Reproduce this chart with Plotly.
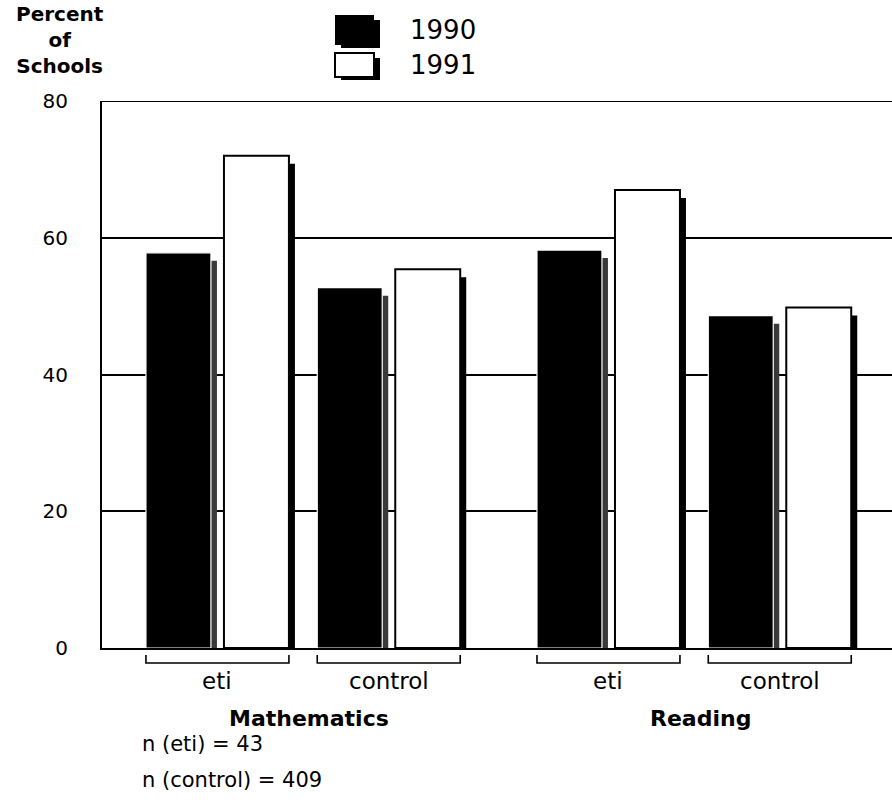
import plotly.graph_objects as go

# Percent of schools, by subject and school group, for two years
subjects = ["Mathematics", "Reading"]
groups = ["eti", "control"]
years = ["1990", "1991"]
pct_1990 = [57.8, 52.7, 58.2, 48.6]   # math eti, math control, reading eti, reading control
pct_1991 = [72.0, 55.4, 67.0, 49.8]
n_eti = 43
n_control = 409

# ---- layout constants (x axis in "bar slot" units) ----
FIRST_PAIR = 1.48
SUBJECT_STEP = 5.013
GROUP_STEP = 2.196
BAR_W = 0.833
X_MAX = 10.128
SHADOW_DX = 0.077
SHADOW_DY = 1.17
Y_MAX = 80

FONT = "DejaVu Sans"
PLOT_L, PLOT_R, PLOT_T, PLOT_B = 102, 892, 101, 648
W, H = 892, 803


def px(xp):
    return (xp - PLOT_L) / (PLOT_R - PLOT_L)


def py(yp):
    return (PLOT_B - yp) / (PLOT_B - PLOT_T)


pair_centers = []
labels = []
for s in range(len(subjects)):
    for g in range(len(groups)):
        pair_centers.append(FIRST_PAIR + s * SUBJECT_STEP + g * GROUP_STEP)
        labels.append(groups[g])

x90 = [c - 0.5 for c in pair_centers]
x91 = [c + 0.5 for c in pair_centers]

fig = go.Figure()

# drop shadows behind the bars
fig.add_trace(go.Bar(x=[x + SHADOW_DX for x in x90], y=[v - SHADOW_DY for v in pct_1990],
                     width=BAR_W, marker=dict(color="#3a3a3a", line=dict(width=0)),
                     showlegend=False, hoverinfo="skip"))
fig.add_trace(go.Bar(x=[x + SHADOW_DX for x in x91], y=[v - SHADOW_DY for v in pct_1991],
                     width=BAR_W, marker=dict(color="black", line=dict(width=0)),
                     showlegend=False, hoverinfo="skip"))
# main bars
fig.add_trace(go.Bar(x=x90, y=pct_1990, width=BAR_W, name=years[0],
                     marker=dict(color="black", line=dict(color="white", width=1.2)),
                     showlegend=False))
fig.add_trace(go.Bar(x=x91, y=pct_1991, width=BAR_W, name=years[1],
                     marker=dict(color="white", line=dict(color="black", width=2)),
                     showlegend=False))

shapes = []
annotations = []

# top frame line at the axis maximum
shapes.append(dict(type="line", xref="paper", yref="y", x0=0, x1=1, y0=Y_MAX, y1=Y_MAX,
                   line=dict(color="black", width=2)))

# brackets under each bar pair and group labels
for c, lab in zip(pair_centers, labels):
    xa = c - 0.5 - BAR_W / 2
    xb = c + 0.5 + BAR_W / 2
    ya, yb = py(655), py(663)
    shapes.append(dict(type="path", xref="x", yref="paper",
                       path=f"M {xa},{ya} L {xa},{yb} L {xb},{yb} L {xb},{ya}",
                       line=dict(color="black", width=1.6)))
    annotations.append(dict(x=c, y=py(681), xref="x", yref="paper", text=lab,
                            showarrow=False, xanchor="center", yanchor="middle",
                            font=dict(family=FONT, size=23, color="black")))

# subject names
for s, name in enumerate(subjects):
    mid = FIRST_PAIR + s * SUBJECT_STEP + GROUP_STEP / 2 + 0.08
    annotations.append(dict(x=mid, y=py(718), xref="x", yref="paper",
                            text=f"<b>{name}</b>", showarrow=False,
                            xanchor="center", yanchor="middle",
                            font=dict(family=FONT, size=22, color="black")))

# sample sizes
annotations.append(dict(x=px(140), y=py(744), xref="paper", yref="paper",
                        text=f"n (eti) = {n_eti}", showarrow=False,
                        xanchor="left", yanchor="middle",
                        font=dict(family=FONT, size=21, color="black")))
annotations.append(dict(x=px(140), y=py(780), xref="paper", yref="paper",
                        text=f"n (control) = {n_control}", showarrow=False,
                        xanchor="left", yanchor="middle",
                        font=dict(family=FONT, size=21, color="black")))

# y axis title, stacked
annotations.append(dict(x=px(60), y=py(40), xref="paper", yref="paper",
                        text="<b>Percent<br>of<br>Schools</b>", showarrow=False,
                        xanchor="center", yanchor="middle", align="center",
                        borderpad=0,
                        font=dict(family=FONT, size=20, color="black")))

# legend swatches with shadows
for (yt, yb), fill, yr in [((15, 45), "black", years[0]), ((53, 77), "white", years[1])]:
    shapes.append(dict(type="rect", xref="paper", yref="paper",
                       x0=px(341), x1=px(380), y0=py(yt + 5), y1=py(yb + 3),
                       fillcolor="black", line=dict(width=0)))
    shapes.append(dict(type="rect", xref="paper", yref="paper",
                       x0=px(335), x1=px(374), y0=py(yt), y1=py(yb),
                       fillcolor=fill, line=dict(color="black", width=2 if fill == "white" else 0)))
    annotations.append(dict(x=px(408), y=py((yt + yb) / 2), xref="paper", yref="paper",
                            text=yr, showarrow=False, xanchor="left", yanchor="middle",
                            font=dict(family=FONT, size=26, color="black")))

fig.update_layout(
    width=W, height=H,
    margin=dict(l=PLOT_L, r=W - PLOT_R, t=PLOT_T, b=H - PLOT_B),
    paper_bgcolor="white", plot_bgcolor="white",
    barmode="overlay",
    showlegend=False,
    shapes=shapes,
    annotations=annotations,
    xaxis=dict(range=[0, X_MAX], showgrid=False, zeroline=False,
               showline=True, linecolor="black", linewidth=2,
               showticklabels=False, ticks=""),
    yaxis=dict(range=[0, Y_MAX], tickvals=[0, 20, 40, 60, 80],
               showgrid=True, gridcolor="black", gridwidth=1.6,
               zeroline=False, showline=True, linecolor="black", linewidth=2,
               ticks="", ticklabelstandoff=28,
               tickfont=dict(family=FONT, size=20, color="black")),
)

fig.write_html("out.html")
